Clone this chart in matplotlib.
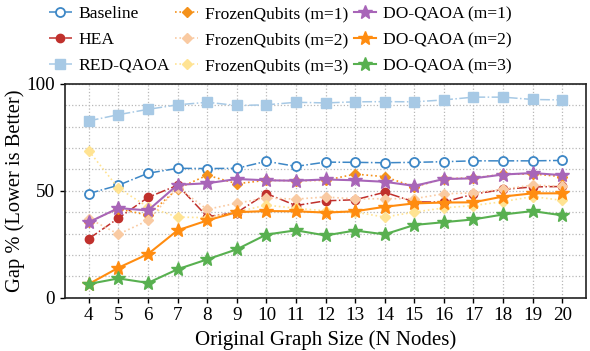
import matplotlib
matplotlib.use("Agg")
import matplotlib.pyplot as plt
from matplotlib.ticker import MultipleLocator

plt.rcParams['font.family'] = ['Liberation Serif', 'DejaVu Serif']
plt.rcParams['mathtext.fontset'] = 'stix'

nodes = list(range(4, 21))

baseline = [48.7, 52.6, 58.2, 60.5, 60.4, 60.5, 63.8, 61.4, 63.4, 63.3, 63.1,
            63.3, 63.6, 64.0, 64.0, 64.0, 64.2]
hea = [27.6, 37.2, 46.9, 52.6, 37.9, 39.8, 48.7, 43.1, 45.3, 45.8, 49.3,
       44.8, 44.7, 48.4, 50.6, 51.8, 52.0]
red_qaoa = [82.7, 85.6, 88.1, 90.2, 91.4, 89.9, 90.2, 91.4, 91.1, 91.6, 91.7,
            91.6, 92.5, 93.8, 93.8, 92.7, 92.5]
fq_m1 = [35.6, 41.5, 38.6, 51.0, 57.3, 53.3, 54.9, 54.7, 54.9, 57.8, 56.6,
         51.8, 55.6, 56.0, 57.7, 57.9, 56.6]
fq_m2 = [37.0, 29.7, 36.1, 51.5, 41.3, 44.2, 46.6, 46.1, 47.1, 46.2, 46.3,
         46.3, 48.6, 49.0, 50.7, 52.7, 52.0]
fq_m3 = [68.6, 51.2, 42.4, 37.7, 37.4, 40.1, 43.3, 41.8, 40.6, 40.0, 37.7,
         40.0, 42.0, 43.1, 44.9, 47.3, 45.5]
do_m1 = [35.3, 41.9, 40.8, 52.8, 53.5, 55.5, 54.9, 54.7, 55.3, 54.9, 54.2,
         52.3, 55.5, 55.8, 57.6, 58.3, 57.3]
do_m2 = [6.4, 14.0, 20.4, 31.5, 36.1, 40.0, 40.5, 40.4, 39.8, 40.4, 42.5,
         44.1, 44.5, 44.6, 47.3, 48.8, 48.8]
do_m3 = [6.4, 9.0, 6.9, 13.3, 17.9, 22.6, 29.5, 31.5, 29.1, 31.4, 29.6,
         34.0, 35.3, 36.6, 38.9, 40.5, 38.5]

fig = plt.figure(figsize=(5.9, 3.51), dpi=100)
ax = fig.add_axes([0.110, 0.152, 0.883, 0.609])

ax.plot(nodes, baseline, linestyle='-.', color='#3d87c6', lw=1.1, marker='o',
        ms=6.5, mfc='white', mec='#3d87c6', mew=1.3, label='Baseline', zorder=3)
ax.plot(nodes, hea, linestyle='-.', color='#c0302c', lw=1.1, marker='o',
        ms=6, mfc='#c0302c', mec='#c0302c', label='HEA', zorder=3)
ax.plot(nodes, red_qaoa, linestyle='-.', color='#a7c9e5', lw=1.1, marker='s',
        ms=6.5, mfc='#a7c9e5', mec='#a7c9e5', label='RED-QAOA', zorder=3)
ax.plot(nodes, fq_m1, linestyle=':', color='#f4911a', lw=1.2, marker='D',
        ms=5, label='FrozenQubits (m=1)', zorder=3)
ax.plot(nodes, fq_m2, linestyle=':', color='#f9caa2', lw=1.2, marker='D',
        ms=5.5, label='FrozenQubits (m=2)', zorder=3)
ax.plot(nodes, fq_m3, linestyle=':', color='#ffe392', lw=1.2, marker='D',
        ms=5.5, label='FrozenQubits (m=3)', zorder=3)
ax.plot(nodes, do_m1, linestyle='-', color='#a865b8', lw=1.5, marker='*',
        ms=10, label='DO-QAOA (m=1)', zorder=4)
ax.plot(nodes, do_m2, linestyle='-', color='#ff8c10', lw=1.5, marker='*',
        ms=10, label='DO-QAOA (m=2)', zorder=4)
ax.plot(nodes, do_m3, linestyle='-', color='#58b050', lw=1.5, marker='*',
        ms=10, label='DO-QAOA (m=3)', zorder=4)

ax.set_xlim(3.19, 20.8)
ax.set_ylim(0, 100)
ax.set_xticks(nodes)
ax.yaxis.set_major_locator(MultipleLocator(50))
ax.yaxis.set_minor_locator(MultipleLocator(10))
ax.tick_params(axis='y', which='minor', length=0)
ax.tick_params(axis='both', which='major', labelsize=13.8, direction='out',
               length=3.5, width=1.0, pad=3.5)
ax.grid(True, which='both', linestyle=':', color='#b8b8b8', lw=0.9)
ax.set_axisbelow(True)
for s in ax.spines.values():
    s.set_linewidth(1.2)
    s.set_color('#222222')

ax.set_xlabel('Original Graph Size (N Nodes)', fontsize=15, labelpad=4.5)
ax.set_ylabel('Gap % (Lower is Better)', fontsize=14.8, labelpad=1)

fig.legend(loc='upper left', bbox_to_anchor=(0.083, 0.983), ncol=3,
           frameon=False, fontsize=12.6, handlelength=1.3, handletextpad=0.4,
           columnspacing=0.3, labelspacing=0.55, borderpad=0.0,
           borderaxespad=0.0)

fig.savefig('out.png', dpi=100)
